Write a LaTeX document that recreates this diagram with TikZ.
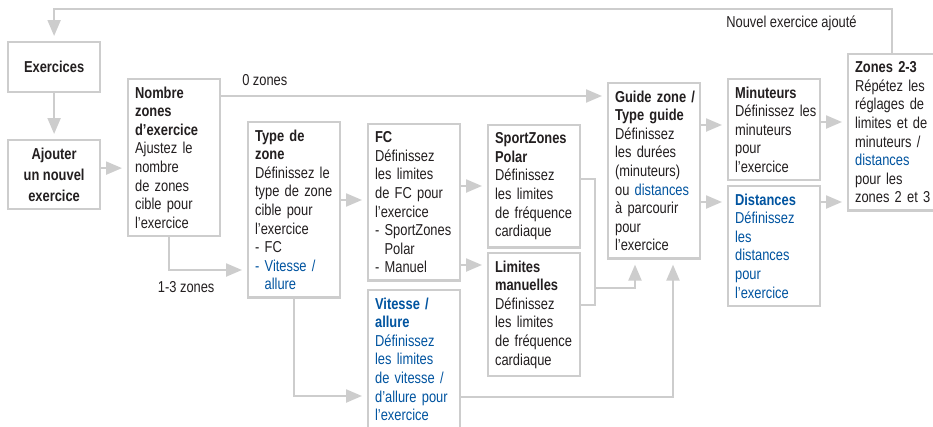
\documentclass[tikz,border=0pt]{standalone}
\usepackage{fontspec}
\setmainfont{Liberation Sans}[FakeStretch=0.815]
\usetikzlibrary{arrows.meta, positioning, calc}
\definecolor{flowgray}{RGB}{205, 205, 205}
\definecolor{bordergray}{RGB}{205, 205, 205}
\definecolor{inktext}{RGB}{35, 31, 32}
\definecolor{polarblue}{RGB}{0, 84, 160}

\begin{document}
\begin{tikzpicture}[
    x=1pt, y=-1pt,
    font=\fontsize{15.8}{18.6}\selectfont,
    zonebox/.style={
        rectangle, draw=bordergray, fill=white, line width=2.2pt,
        anchor=north west, inner xsep=3pt, inner ysep=7.5pt,
        align=left, text width=86pt, text=inktext,
        execute at begin node={\leftskip=4pt}
    },
    bluebox/.style={
        zonebox, text=polarblue
    },
    titlebox/.style={
        rectangle, draw=bordergray, fill=white, line width=2.2pt,
        anchor=north west, inner sep=4pt, align=center,
        minimum width=92pt, text=inktext,
        font=\bfseries\fontsize{15.8}{21}\selectfont
    },
    flow/.style={
        -{Triangle[length=16pt, width=13pt]},
        line width=2.2pt, draw=flowgray, shorten >=5pt
    },
    lnk/.style={
        line width=2.2pt, draw=flowgray
    },
    lbl/.style={
        inner sep=0pt, text=inktext
    }
]
\useasboundingbox (0,0) rectangle (933,426);

% 1. Entree
\node[titlebox, minimum height=50pt] (exercices) at (7,41) {Exercices};
\node[titlebox, minimum height=69pt] (ajouter) at (7,139) {Ajouter\\un nouvel\\exercice};

% 2. Zones et type
\node[zonebox] (nombre) at (127,78) {%
    {\bfseries Nombre\\zones\\d’exercice}\\Ajustez le\\nombre\\de zones\\cible pour\\l’exercice};
\node[zonebox] (type) at (247,121) {%
    {\bfseries Type de\\zone}\\Définissez le\\type de zone\\cible pour\\l’exercice\\- FC\\%
    {\color{polarblue}- Vitesse /}\\{\color{polarblue}\hphantom{- }allure}};

% 3. Limites
\node[zonebox] (fc) at (367,123) {%
    {\bfseries FC}\\Définissez\\les limites\\de FC pour\\l’exercice\\- SportZones\\\hphantom{- }Polar\\- Manuel};
\node[bluebox] (vitesse) at (367,289) {%
    {\bfseries Vitesse /\\allure}\\Définissez\\les limites\\de vitesse /\\d’allure pour\\l’exercice};
\node[zonebox] (sport) at (487,124) {%
    {\bfseries SportZones\\Polar}\\Définissez\\les limites\\de fréquence\\cardiaque};
\node[zonebox] (limites) at (487,252) {%
    {\bfseries Limites\\manuelles}\\Définissez\\les limites\\de fréquence\\cardiaque};

% 4. Guide zone
\node[zonebox] (guide) at (607,82) {%
    {\bfseries Guide zone /\\Type guide}\\Définissez\\les durées\\(minuteurs)\\ou {\color{polarblue}distances}\\à parcourir\\pour\\l’exercice};
\node[zonebox] (minuteurs) at (727,78) {%
    {\bfseries Minuteurs}\\Définissez les\\minuteurs\\pour\\l’exercice};
\node[bluebox] (distances) at (727,185) {%
    {\bfseries Distances}\\Définissez\\les\\distances\\pour\\l’exercice};

% 5. Zones suivantes
\node[zonebox] (zones) at (847,53) {%
    {\bfseries Zones 2-3}\\Répétez les\\réglages de\\limites et de\\minuteurs /\\{\color{polarblue}distances}\\pour les\\zones 2 et 3};

% ================= Connexions =================

% Exercices -> Ajouter -> Nombre
\draw[flow] (exercices.south) -- (ajouter.north);
\draw[flow] ([yshift=6.5pt]ajouter.east) -- ([yshift=6.5pt]ajouter.east -| nombre.west);

% 0 zones / 1-3 zones
\draw[flow] ([yshift=-18pt]nombre.north east) -- node[lbl, above=9pt, pos=0.113]{0 zones} ([yshift=-18pt]nombre.north east -| guide.west);
\draw[flow] ([xshift=42pt]nombre.south west) |- node[lbl, below=10pt, pos=0.61]{1-3 zones} ([yshift=-149pt]type.north west);

% Type de zone -> FC / Vitesse
\draw[flow] ([yshift=-79pt]type.north east) -- ([yshift=-79pt]type.north east -| fc.west);
\draw[flow] (type.south) |- ([yshift=-107pt]vitesse.north west);

% FC -> SportZones / Limites manuelles
\draw[flow] ([yshift=-63pt]fc.north east) -- ([yshift=-63pt]fc.north east -| sport.west);
\draw[flow] ([yshift=-142pt]fc.north east) -- ([yshift=-142pt]fc.north east -| limites.west);

% Limites -> Guide zone
\coordinate (fcjoin) at ($(limites.north east)+(14,36)$);
\draw[lnk] ([yshift=-55pt]sport.north east) -| ($(limites.north east)+(14,53)$) -- ([yshift=-53pt]limites.north east);
\draw[flow] (fcjoin) -| ([xshift=28pt]guide.south west);
\draw[flow] ([yshift=-108pt]vitesse.north east) -| ([xshift=66pt]guide.south west);

% Guide zone -> Minuteurs / Distances -> Zones 2-3
\draw[flow] ([yshift=-43pt]guide.north east) -- ([yshift=-43pt]guide.north east -| minuteurs.west);
\draw[flow] ([yshift=-120pt]guide.north east) -- ([yshift=-120pt]guide.north east -| distances.west);
\draw[flow] ([yshift=-44pt]minuteurs.north east) -- ([yshift=-44pt]minuteurs.north east -| zones.west);
\draw[flow] ([yshift=-17pt]distances.north east) -- ([yshift=-17pt]distances.north east -| zones.west);

% Retour
\draw[flow] ([xshift=45pt]zones.north west) |- node[lbl, below=6pt, pos=0.56]{Nouvel exercice ajouté} ($(exercices.north)+(0,-32)$) -- (exercices.north);

\end{tikzpicture}
\end{document}
